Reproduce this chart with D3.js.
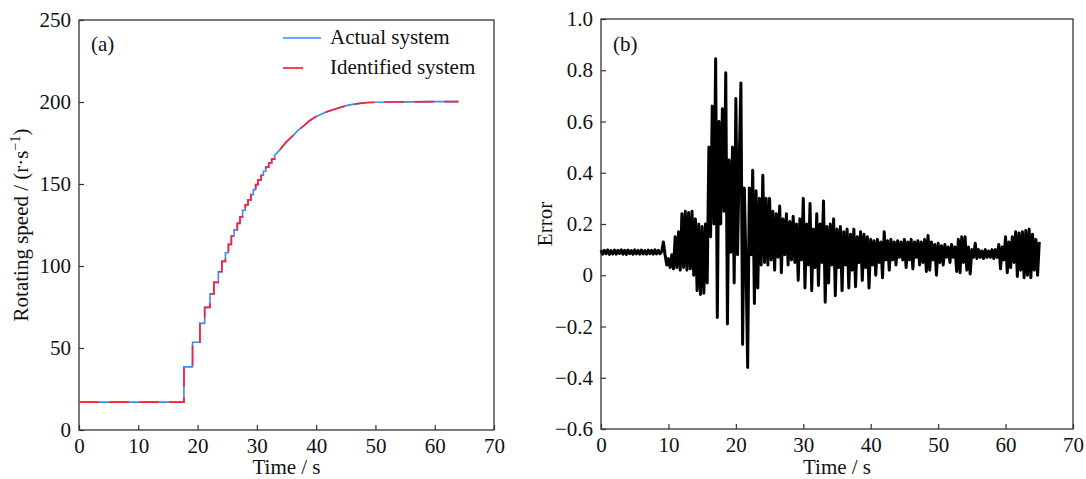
<!DOCTYPE html>
<html>
<head>
<meta charset="utf-8">
<script src="https://cdn.jsdelivr.net/npm/d3@7"></script>
<style>
  body { margin: 0; background: #fff; }
  svg { display: block; font-family: "Liberation Serif", "Times New Roman", serif; }
</style>
</head>
<body>
<svg width="1086" height="479"></svg>
<script>
// ---- data ----

// panel (a): staircase part of the speed response, then the smooth tail
const stepTime  = [0, 17.7, 19.15, 20.4, 21.2, 22.1, 22.75, 23.5, 24.1, 24.7, 25.2, 25.7, 26.15, 26.7, 27.15, 27.6, 28.05, 28.5, 29.0, 29.4, 29.8, 30.2, 30.7, 31.1, 31.5, 32.0, 32.5, 33.0];
const stepSpeed = [17, 38.5, 53.5, 65, 74.8, 83, 90, 96.5, 102.8, 108.1, 113.2, 118.2, 122, 126, 130, 134, 137.3, 140.3, 143.5, 146.6, 149.6, 152.5, 155.3, 157.8, 160.3, 162.8, 165.2, 167.5];
const tailTime  = [33.0, 33.8, 34.9, 36.0, 36.9, 38.0, 38.9, 40.0, 41.6, 43.5, 45.4, 47.0, 48.8, 52, 56, 60, 64];
const tailSpeed = [167.5, 170.5, 175.4, 179.2, 182.5, 185.8, 188.6, 191.2, 193.8, 196.0, 198.1, 199.0, 199.7, 200.0, 200.1, 200.2, 200.2];
const seriesNames = ["Actual system", "Identified system"];
const speedTicks = [0, 50, 100, 150, 200, 250];
const timeTicks = [0, 10, 20, 30, 40, 50, 60, 70];

// panel (b): error, one sample every 0.25 s
const errDt = 0.25;
const errQuiet = [ // 0 .. 9.5 s
  0.098, 0.082, 0.097, 0.084, 0.099, 0.081, 0.096, 0.083,
  0.098, 0.082, 0.097, 0.085, 0.099, 0.082, 0.097, 0.081,
  0.098, 0.084, 0.096, 0.082, 0.099, 0.083, 0.097, 0.082,
  0.098, 0.083, 0.096, 0.082, 0.098, 0.084, 0.097, 0.082,
  0.099, 0.083, 0.097, 0.084, 0.092];
const errBurst = [ // 9.75 .. 25 s
  0.13,
  0.08, 0.04, 0.065, 0.03,
  0.08, 0.025, 0.15, 0.03,
  0.17, 0.02, 0.24, 0.03,
  0.25, 0.02, 0.245, 0.025,
  0.25, 0.0, 0.22, -0.06,
  0.2, -0.075, 0.19, -0.07,
  0.2, -0.03, 0.5, 0.15,
  0.66, 0.2, 0.845, -0.165,
  0.6, 0.2, 0.65, 0.25,
  0.79, -0.19, 0.45, 0.09,
  0.5, -0.03, 0.69, 0.08,
  0.45, 0.75, -0.27, 0.34,
  0.05, -0.36, 0.34, 0.08,
  0.41, -0.11, 0.33, -0.05,
  0.3, 0.04, 0.39, 0.05,
  0.3];
const errDecay = [ // 25.25 .. 45 s
  0.04, 0.3, 0.06, 0.25,
  0.02, 0.24, 0.07, 0.27,
  0.01, 0.22, 0.08, 0.24,
  0.04, 0.21, 0.06, 0.23,
  0.05, 0.2, -0.02, 0.22,
  0.06, 0.3, -0.05, 0.2,
  0.04, 0.28, -0.06, 0.18,
  0.03, 0.24, -0.04, 0.2,
  0.05, 0.29, -0.105, 0.19,
  -0.03, 0.2, 0.04, 0.22,
  -0.08, 0.18, 0.03, 0.19,
  -0.06, 0.17, 0.04, 0.18,
  -0.05, 0.16, 0.02, 0.18,
  -0.045, 0.15, 0.05, 0.17,
  -0.02, 0.16, 0.03, 0.15,
  -0.05, 0.14, 0.04, 0.135,
  0.0, 0.14, 0.05, 0.13,
  -0.01, 0.17, 0.06, 0.135,
  0.02, 0.14, 0.06, 0.13,
  0.04, 0.135, 0.07, 0.13];
const errTail = [ // 45.25 .. 65.5 s
  0.06, 0.14, 0.03, 0.13,
  0.06, 0.14, 0.025, 0.13,
  0.07, 0.135, 0.04, 0.13,
  0.05, 0.14, 0.015, 0.155,
  0.02, 0.13, 0.06, 0.12,
  0.0, 0.125, 0.05, 0.115,
  0.04, 0.12, 0.07, 0.11,
  0.05, 0.12, 0.07, 0.11,
  0.015, 0.14, 0.01, 0.15,
  0.05, 0.15, 0.02, 0.11,
  0.005, 0.1, 0.07, 0.125,
  0.065, 0.1, 0.07, 0.095,
  0.065, 0.1, 0.07, 0.095,
  0.07, 0.1, 0.065, 0.1,
  0.07, 0.12, 0.025, 0.11,
  0.06, 0.15, 0.01, 0.13,
  0.03, 0.15, 0.05, 0.17,
  -0.005, 0.165, 0.02, 0.17,
  -0.01, 0.175, 0.0, 0.18,
  -0.01, 0.16, 0.02, 0.14,
  0.0, 0.13];
const errTicks = [-0.6, -0.4, -0.2, 0, 0.2, 0.4, 0.6, 0.8, 1.0];

const blue = "#3a8cff";
const red = "#ff2035";
const axisColor = "#333";
const fontSize = 21;

const svg = d3.select("svg");
svg.append("rect").attr("width", 1086).attr("height", 479).attr("fill", "#fff");

// draws the frame, inward ticks, tick labels and titles of one panel
function drawFrame(box, x, y, yTicks, yFormat, yTitle, tag) {
  const g = svg.append("g");

  g.append("g")
    .attr("transform", `translate(0,${box.bottom})`)
    .call(d3.axisBottom(x).tickValues(timeTicks).tickSizeInner(-5).tickSizeOuter(0).tickPadding(8))
    .call(a => a.select(".domain").remove());

  g.append("g")
    .attr("transform", `translate(${box.left},0)`)
    .call(d3.axisLeft(y).tickValues(yTicks).tickFormat(yFormat).tickSizeInner(-5).tickSizeOuter(0).tickPadding(8))
    .call(a => a.select(".domain").remove());

  g.selectAll(".tick line").attr("stroke", axisColor).attr("stroke-width", 1.2);
  g.selectAll(".tick text")
    .attr("font-family", "Liberation Serif")
    .attr("font-size", fontSize)
    .attr("fill", "#111");

  g.append("rect")
    .attr("x", box.left).attr("y", box.top)
    .attr("width", box.right - box.left).attr("height", box.bottom - box.top)
    .attr("fill", "none").attr("stroke", axisColor).attr("stroke-width", 1.3);

  g.append("text")
    .attr("x", (box.left + box.right) / 2).attr("y", 474)
    .attr("text-anchor", "middle").attr("font-size", fontSize).attr("fill", "#111")
    .text("Time / s");

  g.append("text")
    .attr("x", box.left + 12).attr("y", 51)
    .attr("font-size", fontSize).attr("fill", "#111")
    .text(tag);

  const t = g.append("text")
    .attr("transform", `translate(${box.titleX},${(box.top + box.bottom) / 2}) rotate(-90)`)
    .attr("text-anchor", "middle").attr("font-size", fontSize).attr("fill", "#111");
  yTitle(t);
  return g;
}

// ---- panel (a) ----
const boxA = {left: 79, right: 494, top: 20, bottom: 430, titleX: 28};
const xA = d3.scaleLinear().domain([0, 70]).range([boxA.left, boxA.right]);
const yA = d3.scaleLinear().domain([0, 250]).range([boxA.bottom, boxA.top]);

drawFrame(boxA, xA, yA, speedTicks, d3.format("d"), t => {
  t.append("tspan").text("Rotating speed / (r·s");
  t.append("tspan").attr("font-size", 14).attr("dy", -8).text("−1");
  t.append("tspan").attr("dy", 8).text(")");
}, "(a)");

// expand the staircase into corner points and add the smooth tail
const speedPts = [];
stepTime.forEach((tm, i) => {
  speedPts.push([tm, stepSpeed[i]]);
  if (i < stepTime.length - 1) speedPts.push([stepTime[i + 1], stepSpeed[i]]);
});
tailTime.forEach((tm, i) => { if (i > 0) speedPts.push([tm, tailSpeed[i]]); });

const lineA = d3.line().x(d => xA(d[0])).y(d => yA(d[1]));

svg.append("path").datum(speedPts)
  .attr("d", lineA).attr("fill", "none")
  .attr("stroke", blue).attr("stroke-width", 1.6);
svg.append("path").datum(speedPts)
  .attr("d", lineA).attr("fill", "none")
  .attr("stroke", red).attr("stroke-width", 1.7)
  .attr("stroke-dasharray", "20,10");

// legend
const legend = svg.append("g");
legend.append("line").attr("x1", 283).attr("x2", 321).attr("y1", 38).attr("y2", 38)
  .attr("stroke", blue).attr("stroke-width", 1.6);
legend.append("line").attr("x1", 283).attr("x2", 303).attr("y1", 68).attr("y2", 68)
  .attr("stroke", red).attr("stroke-width", 1.7);
legend.selectAll("text").data(seriesNames).join("text")
  .attr("x", 330).attr("y", (d, i) => 44 + i * 30)
  .attr("font-size", fontSize).attr("fill", "#111")
  .text(d => d);

// ---- panel (b) ----
const boxB = {left: 601, right: 1073, top: 19, bottom: 429, titleX: 552};
const xB = d3.scaleLinear().domain([0, 70]).range([boxB.left, boxB.right]);
const yB = d3.scaleLinear().domain([-0.6, 1.0]).range([boxB.bottom, boxB.top]);

drawFrame(boxB, xB, yB, errTicks, d => d === 0 ? "0" : d3.format(".1f")(d), t => {
  t.text("Error");
}, "(b)");

const errValues = errQuiet.concat(errBurst, errDecay, errTail);
const errPts = errValues.map((v, i) => [i * errDt, v]);

svg.append("path").datum(errPts)
  .attr("d", d3.line().x(d => xB(d[0])).y(d => yB(d[1])))
  .attr("fill", "none").attr("stroke", "#000")
  .attr("stroke-width", 3).attr("stroke-linejoin", "round");
</script>
</body>
</html>
